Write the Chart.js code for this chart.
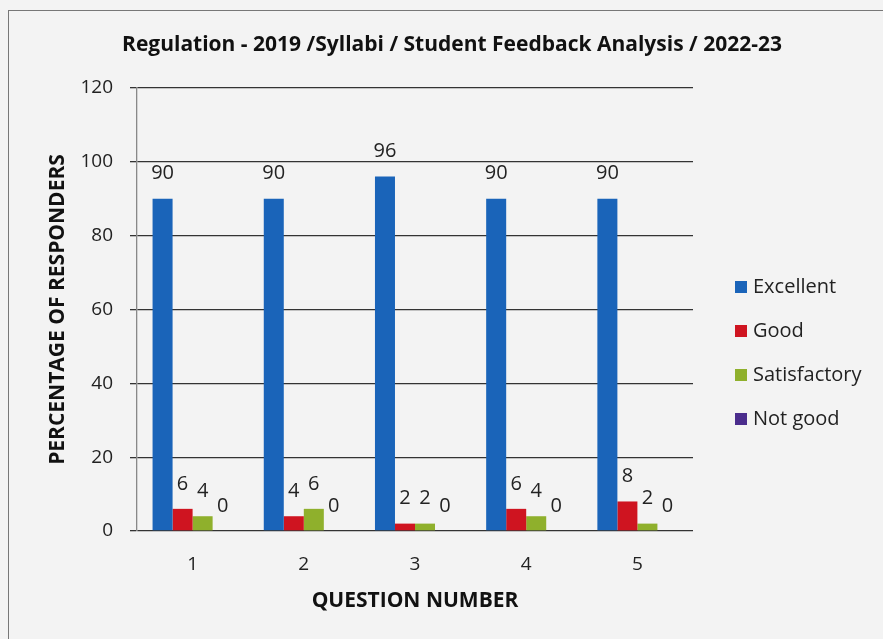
<!DOCTYPE html>
<html>
<head>
<meta charset="utf-8">
<script src="https://cdn.jsdelivr.net/npm/chart.js@4.4.1/dist/chart.umd.min.js"></script>
<style>
  html, body { margin:0; padding:0; background:#f3f3f3; }
  #wrap { position:relative; width:883px; height:639px; overflow:hidden; }
  #frame { position:absolute; left:8px; top:10px; width:900px; height:700px; border-left:1.5px solid #777; border-top:1.5px solid #777; }
  canvas { position:absolute; left:0; top:0; }
</style>
</head>
<body>
<div id="wrap">
  <div id="frame"></div>
  <canvas id="chart" width="883" height="639"></canvas>
</div>
<script>
const vragen       = ['1', '2', '3', '4', '5'];
const excellent    = [90, 90, 96, 90, 90];
const good         = [6, 4, 2, 6, 8];
const satisfactory = [4, 6, 2, 4, 2];
const notGood      = [0, 0, 0, 0, 0];
const yTicks       = [0, 20, 40, 60, 80, 100, 120];
const titelTekst   = 'Regulation - 2019 /Syllabi / Student Feedback Analysis / 2022-23';

const FONT = '"Open Sans", Lato, sans-serif';

// Waarde boven elke staaf.
const labelPlugin = {
  id: 'barLabels',
  afterDatasetsDraw(c) {
    const ctx = c.ctx;
    ctx.save();
    ctx.font = '20px ' + FONT;
    ctx.fillStyle = '#222';
    ctx.textAlign = 'center';
    ctx.textBaseline = 'middle';
    c.data.datasets.forEach((ds, di) => {
      c.getDatasetMeta(di).data.forEach((bar, i) => {
        ctx.fillText(String(ds.data[i]), bar.x, bar.y - 25);
      });
    });
    ctx.restore();
  }
};

// Titel over de volle breedte (ook boven de legenda) + legenda rechts.
const kaderPlugin = {
  id: 'kader',
  afterDraw(c) {
    const ctx = c.ctx;
    ctx.save();
    ctx.font = 'bold 21px ' + FONT;
    ctx.fillStyle = '#111';
    ctx.textAlign = 'center';
    ctx.textBaseline = 'middle';
    ctx.fillText(titelTekst, 452, 45);

    ctx.font = '20px ' + FONT;
    ctx.textAlign = 'left';
    c.data.datasets.forEach((ds, i) => {
      const y = 287 + i * 44;
      ctx.fillStyle = ds.backgroundColor;
      ctx.fillRect(735, y - 6, 12, 12);
      ctx.fillStyle = '#222';
      ctx.fillText(ds.label, 753, y);
    });
    ctx.restore();
  }
};

new Chart(document.getElementById('chart'), {
  type: 'bar',
  plugins: [labelPlugin, kaderPlugin],
  data: {
    labels: vragen,
    datasets: [
      { label: 'Excellent',    data: excellent,    backgroundColor: '#1a64b9' },
      { label: 'Good',         data: good,         backgroundColor: '#cf1420' },
      { label: 'Satisfactory', data: satisfactory, backgroundColor: '#8fb02c' },
      { label: 'Not good',     data: notGood,      backgroundColor: '#4a2c8c' }
    ]
  },
  options: {
    responsive: false, animation: false,
    layout: { padding: { left: 35, right: 190, top: 88, bottom: 14 } },
    datasets: { bar: { categoryPercentage: 0.72, barPercentage: 1 } },
    plugins: {
      legend: { display: false },
      tooltip: { enabled: false }
    },
    scales: {
      x: {
        afterFit: s => { s.height = 94; },
        grid: { display: false },
        border: { display: false },
        ticks: { color: '#222', font: { family: FONT, size: 19 }, padding: 14 },
        title: { display: true, text: 'QUESTION NUMBER', color: '#111', font: { family: FONT, size: 21, weight: 'bold' }, padding: { top: 1, bottom: 11 } }
      },
      y: {
        min: 0, max: 120,
        afterBuildTicks: s => { s.ticks = yTicks.map(v => ({ value: v })); },
        afterFit: s => { s.width = 102; },
        grid: { color: '#333', lineWidth: 1.3, tickLength: 7 },
        border: { display: true, color: '#888', width: 1.3 },
        ticks: { color: '#222', font: { family: FONT, size: 19 }, padding: 17 },
        title: { display: true, text: 'PERCENTAGE OF RESPONDERS', color: '#111', font: { family: FONT, size: 21, weight: 'bold' }, padding: { top: 10, bottom: 4 } }
      }
    }
  }
});
</script>
</body>
</html>
